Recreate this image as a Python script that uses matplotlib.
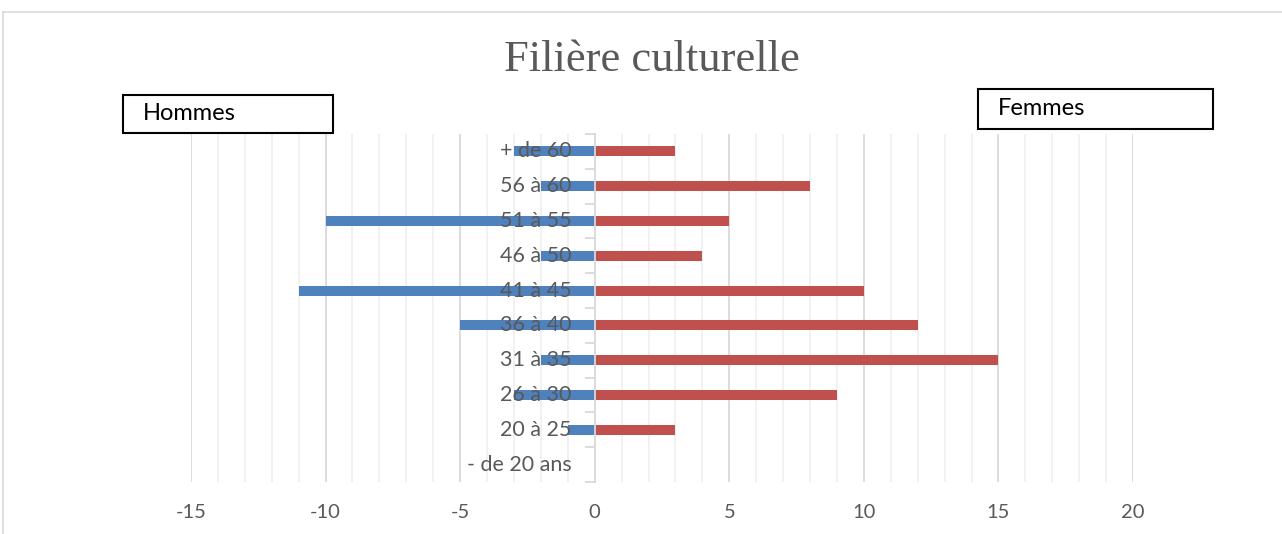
import matplotlib.pyplot as plt
import matplotlib.patches as mpatches
import numpy as np

# données (du bas vers le haut)
tranches = ['- de 20 ans', '20 à 25', '26 à 30', '31 à 35', '36 à 40',
            '41 à 45', '46 à 50', '51 à 55', '56 à 60', '+ de 60']
hommes = [0, 1, 3, 2, 5, 11, 2, 10, 2, 3]
femmes = [0, 3, 9, 15, 12, 10, 4, 5, 8, 3]
xticks = [-15, -10, -5, 0, 5, 10, 15, 20]

W, H = 1282, 534
fig = plt.figure(figsize=(W / 100, H / 100), dpi=100)
gris = '#595959'
font = 'Lato'

ax = fig.add_axes([191 / W, 1 - 482 / H, (1133 - 191) / W, (482 - 134) / H])
y = np.arange(len(tranches))
ax.barh(y, [-v for v in hommes], height=0.29, color='#4f81bd', zorder=2)
ax.barh(y, femmes, height=0.29, color='#c0504d', zorder=2)

ax.set_xlim(-15, 20)
ax.set_ylim(-0.5, len(tranches) - 0.5)

# grille verticale
for v in range(-15, 21):
    if v == 0:
        continue
    if v % 5 == 0:
        ax.axvline(v, color='#d9d9d9', lw=1.3, zorder=0)
    else:
        ax.axvline(v, color='#f0f0f0', lw=1.3, zorder=0)

for s in ['top', 'right', 'bottom']:
    ax.spines[s].set_visible(False)
ax.spines['left'].set_position(('data', 0))
ax.spines['left'].set_color('#d9d9d9')
ax.spines['left'].set_linewidth(1.3)
ax.spines['left'].set_zorder(3)

ax.set_yticks(np.arange(-0.5, len(tranches), 1.0))
ax.set_yticklabels([])
ax.tick_params(axis='y', length=7, width=1.3, color='#d9d9d9', direction='out')

ax.set_xticks(xticks)
ax.set_xticklabels([str(v) for v in xticks], fontsize=14.5, color=gris, fontfamily=font)
ax.tick_params(axis='x', length=0, pad=16)

for yi, lab in zip(y, tranches):
    ax.annotate(lab, (0, yi), xytext=(-23, 0), textcoords='offset pixels',
                ha='right', va='center', fontsize=15.5, color=gris,
                fontfamily=font, zorder=5)

fig.text(652 / W, 1 - 60 / H, 'Filière culturelle', ha='center', va='center',
         fontsize=32, color=gris, fontfamily='Liberation Serif')


def boite(x0, y0, x1, y1, texte):
    r = mpatches.Rectangle((x0 / W, 1 - y1 / H), (x1 - x0) / W, (y1 - y0) / H,
                           transform=fig.transFigure, fill=False,
                           edgecolor='black', lw=1.5)
    fig.add_artist(r)
    fig.text((x0 + 20) / W, 1 - (y0 + y1) / 2 / H, texte, ha='left',
             va='center', fontsize=17, color='black', fontfamily=font)


boite(123, 95, 333, 133, 'Hommes')
boite(978, 89, 1213, 129, 'Femmes')

# cadre extérieur
fig.add_artist(plt.Line2D([3 / W, 1], [1 - 12 / H, 1 - 12 / H],
                          transform=fig.transFigure, color='#d9d9d9', lw=1.2))
fig.add_artist(plt.Line2D([3 / W, 3 / W], [0, 1 - 12 / H],
                          transform=fig.transFigure, color='#d9d9d9', lw=1.2))

fig.savefig('out.png', dpi=100)
